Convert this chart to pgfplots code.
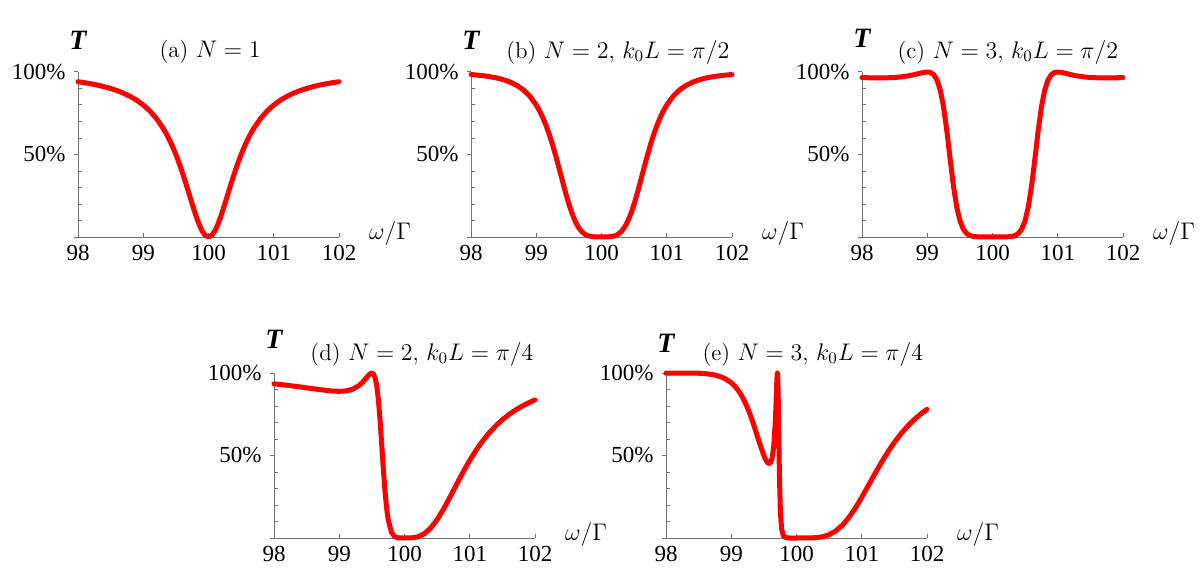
\documentclass[border=0pt]{standalone}
\usepackage{fontspec}
\newfontfamily\tnr{Liberation Serif}
\usepackage{pgfplots}
\pgfplotsset{compat=1.18}
\pgfplotsset{
  panel/.style={
    scale only axis, width=130.5pt, height=82.5pt,
    anchor=south west,
    xmin=98, xmax=102, ymin=0, ymax=100,
    axis lines=left,
    axis line style={-, draw=black!55, line width=0.5pt},
    clip=false,
    xtick={98,99,100,101,102},
    ytick={0,50,100}, yticklabels={,50\%,100\%},
    minor ytick={10,20,30,40,60,70,80,90},
    xtick align=inside, ytick align=outside,
    major tick length=2.2pt, minor tick length=2pt,
    tick style={draw=black!55, line width=0.5pt},
    minor y tick style={xshift=2pt},
    /pgf/number format/assume math mode=true,
    ticklabel style={font=\tnr},
  },
  curve/.style={red, line width=2.5pt, line join=round, line cap=round, mark=none},
}
\tikzset{tlab/.style={font=\tnr\fontsize{14}{16}\selectfont\bfseries\itshape}}
\begin{document}
\fontsize{11.5}{14}\selectfont
\begin{tikzpicture}
\useasboundingbox (0,0) rectangle (600pt,289.5pt);

% (a)
\begin{axis}[panel, at={(39pt,171pt)}]
\addplot[curve] coordinates {(98,94.12)(98.1,93.52)(98.2,92.84)(98.3,92.04)(98.4,91.10)(98.5,90.00)(98.6,88.69)(98.7,87.11)(98.8,85.21)(98.9,82.88)(99,80.00)(99.1,76.42)(99.2,71.91)(99.3,66.22)(99.35,62.83)(99.4,59.02)(99.45,54.75)(99.5,50.00)(99.55,44.75)(99.6,39.02)(99.65,32.89)(99.7,26.47)(99.75,20.00)(99.8,13.79)(99.85,8.26)(99.9,3.85)(99.95,0.99)(100,0)
(100.05,0.99)(100.1,3.85)(100.15,8.26)(100.2,13.79)(100.25,20.00)(100.3,26.47)(100.35,32.89)(100.4,39.02)(100.45,44.75)(100.5,50.00)(100.55,54.75)(100.6,59.02)(100.65,62.83)(100.7,66.22)(100.8,71.91)(100.9,76.42)(101,80.00)(101.1,82.88)(101.2,85.21)(101.3,87.11)(101.4,88.69)(101.5,90.00)(101.6,91.10)(101.7,92.04)(101.8,92.84)(101.9,93.52)(102,94.12)};
\node[tlab] at (rel axis cs:0,1) [yshift=16pt] {T};
\node at (rel axis cs:0.506,1) [yshift=10pt] {(a)~$N=1$};
\node[anchor=west] at (rel axis cs:1,0) [xshift=11pt, yshift=2pt] {$\omega/\Gamma$};
\end{axis}

% (b)
\begin{axis}[panel, at={(235.5pt,171pt)}]
\addplot[curve] coordinates {(98,98.46)(98.1,98.12)(98.2,97.67)(98.3,97.09)(98.4,96.33)(98.5,95.29)(98.6,93.89)(98.7,91.95)(98.8,89.24)(98.9,85.42)(99,80.00)(99.05,76.51)(99.1,72.41)(99.15,67.62)(99.2,62.10)(99.25,55.86)(99.3,48.99)(99.35,41.66)(99.4,34.14)(99.45,26.79)(99.5,20.00)(99.55,14.09)(99.6,9.29)(99.65,5.66)(99.7,3.14)(99.75,1.54)(99.8,0.64)(99.9,0.04)(100,0)
(100.1,0.04)(100.2,0.64)(100.25,1.54)(100.3,3.14)(100.35,5.66)(100.4,9.29)(100.45,14.09)(100.5,20.00)(100.55,26.79)(100.6,34.14)(100.65,41.66)(100.7,48.99)(100.75,55.86)(100.8,62.10)(100.85,67.62)(100.9,72.41)(100.95,76.51)(101,80.00)(101.1,85.42)(101.2,89.24)(101.3,91.95)(101.4,93.89)(101.5,95.29)(101.6,96.33)(101.7,97.09)(101.8,97.67)(101.9,98.12)(102,98.46)};
\node[tlab] at (rel axis cs:0,1) [yshift=16pt] {T};
\node at (rel axis cs:0.563,1) [yshift=10pt] {(b)~$N=2$, $k_0L=\pi/2$};
\node[anchor=west] at (rel axis cs:1,0) [xshift=11pt, yshift=2pt] {$\omega/\Gamma$};
\end{axis}

% (c)
\begin{axis}[panel, at={(431pt,171pt)}]
\addplot[curve] coordinates {(98,96.60)(98.1,96.51)(98.2,96.44)(98.3,96.43)(98.4,96.50)(98.5,96.68)(98.6,97.03)(98.7,97.59)(98.8,98.40)(98.9,99.38)(98.95,99.80)(99,100)(99.05,99.68)(99.1,98.33)(99.15,95.14)(99.2,89.00)(99.25,78.81)(99.3,64.40)(99.35,47.50)(99.4,31.30)(99.45,18.54)(99.5,10.00)(99.55,4.96)(99.6,2.27)(99.65,0.95)(99.7,0.35)(99.8,0.03)(100,0)
(100.2,0.03)(100.3,0.35)(100.35,0.95)(100.4,2.27)(100.45,4.96)(100.5,10.00)(100.55,18.54)(100.6,31.30)(100.65,47.50)(100.7,64.40)(100.75,78.81)(100.8,89.00)(100.85,95.14)(100.9,98.33)(100.95,99.68)(101,100)(101.05,99.80)(101.1,99.38)(101.2,98.40)(101.3,97.59)(101.4,97.03)(101.5,96.68)(101.6,96.50)(101.7,96.43)(101.8,96.44)(101.9,96.51)(102,96.60)};
\node[tlab] at (rel axis cs:0,1) [yshift=17pt] {T};
\node at (rel axis cs:0.559,1) [yshift=10pt] {(c)~$N=3$, $k_0L=\pi/2$};
\node[anchor=west] at (rel axis cs:1,0) [xshift=11pt, yshift=2pt] {$\omega/\Gamma$};
\end{axis}

% (d)
\begin{axis}[panel, at={(137pt,20.5pt)}]
\addplot[curve] coordinates {(98,93.43)(98.1,93.01)(98.2,92.55)(98.3,92.06)(98.4,91.55)(98.5,91.01)(98.6,90.46)(98.7,89.93)(98.8,89.43)(98.9,89.05)(99,88.89)(99.1,89.13)(99.2,90.10)(99.3,92.31)(99.35,94.07)(99.4,96.29)(99.45,98.65)(99.475,99.59)(99.5,100)(99.525,99.39)(99.55,97.04)(99.575,92.06)(99.6,83.66)(99.625,71.68)(99.65,57.15)(99.675,42.15)(99.7,28.83)(99.725,18.43)(99.75,11.11)(99.8,3.43)(99.85,0.82)(99.9,0.12)(100,0)
(100.1,0.06)(100.2,0.65)(100.3,2.47)(100.4,5.95)(100.5,11.11)(100.6,17.64)(100.7,25.01)(100.8,32.65)(100.9,40.10)(101,47.06)(101.1,53.36)(101.2,58.93)(101.3,63.81)(101.4,68.04)(101.5,71.68)(101.6,74.82)(101.7,77.53)(101.8,79.87)(101.9,81.90)(102,83.66)};
\node[tlab] at (rel axis cs:0,1) [yshift=17pt] {T};
\node at (rel axis cs:0.567,1) [yshift=9.5pt] {(d)~$N=2$, $k_0L=\pi/4$};
\node[anchor=west] at (rel axis cs:1,0) [xshift=11pt, yshift=2pt] {$\omega/\Gamma$};
\end{axis}

% (e)
\begin{axis}[panel, at={(333pt,20.5pt)}]
\addplot[curve] coordinates {(98,99.90)(98.1,99.95)(98.2,99.99)(98.3,100)(98.4,99.97)(98.5,99.86)(98.6,99.62)(98.7,99.14)(98.8,98.26)(98.9,96.72)(99,94.12)(99.05,92.24)(99.1,89.85)(99.15,86.87)(99.2,83.21)(99.25,78.81)(99.3,73.68)(99.35,67.92)(99.4,61.75)(99.45,55.58)(99.5,50.00)(99.525,47.72)(99.55,45.99)(99.575,45.10)(99.6,45.53)(99.625,48.19)(99.65,55.03)(99.675,70.53)(99.68,75.24)(99.69,86.13)(99.695,91.79)(99.7,96.68)(99.707,100)(99.71,99.30)(99.715,94.45)(99.72,85.05)(99.725,72.48)(99.73,58.88)(99.735,46.12)(99.74,35.29)(99.75,20.00)(99.76,11.26)(99.775,4.88)(99.8,1.29)(99.85,0.09)(99.9,0)(100,0)
(100.2,0.03)(100.3,0.21)(100.4,0.76)(100.5,2.00)(100.6,4.21)(100.7,7.61)(100.8,12.26)(100.9,18.02)(101,24.62)(101.1,31.68)(101.2,38.80)(101.3,45.70)(101.4,52.12)(101.5,57.95)(101.6,63.13)(101.7,67.68)(101.8,71.63)(101.9,75.05)(102,77.99)};
\node[tlab] at (rel axis cs:0,1) [yshift=15pt] {T};
\node at (rel axis cs:0.563,1) [yshift=9.5pt] {(e)~$N=3$, $k_0L=\pi/4$};
\node[anchor=west] at (rel axis cs:1,0) [xshift=11pt, yshift=2pt] {$\omega/\Gamma$};
\end{axis}
\end{tikzpicture}
\end{document}
